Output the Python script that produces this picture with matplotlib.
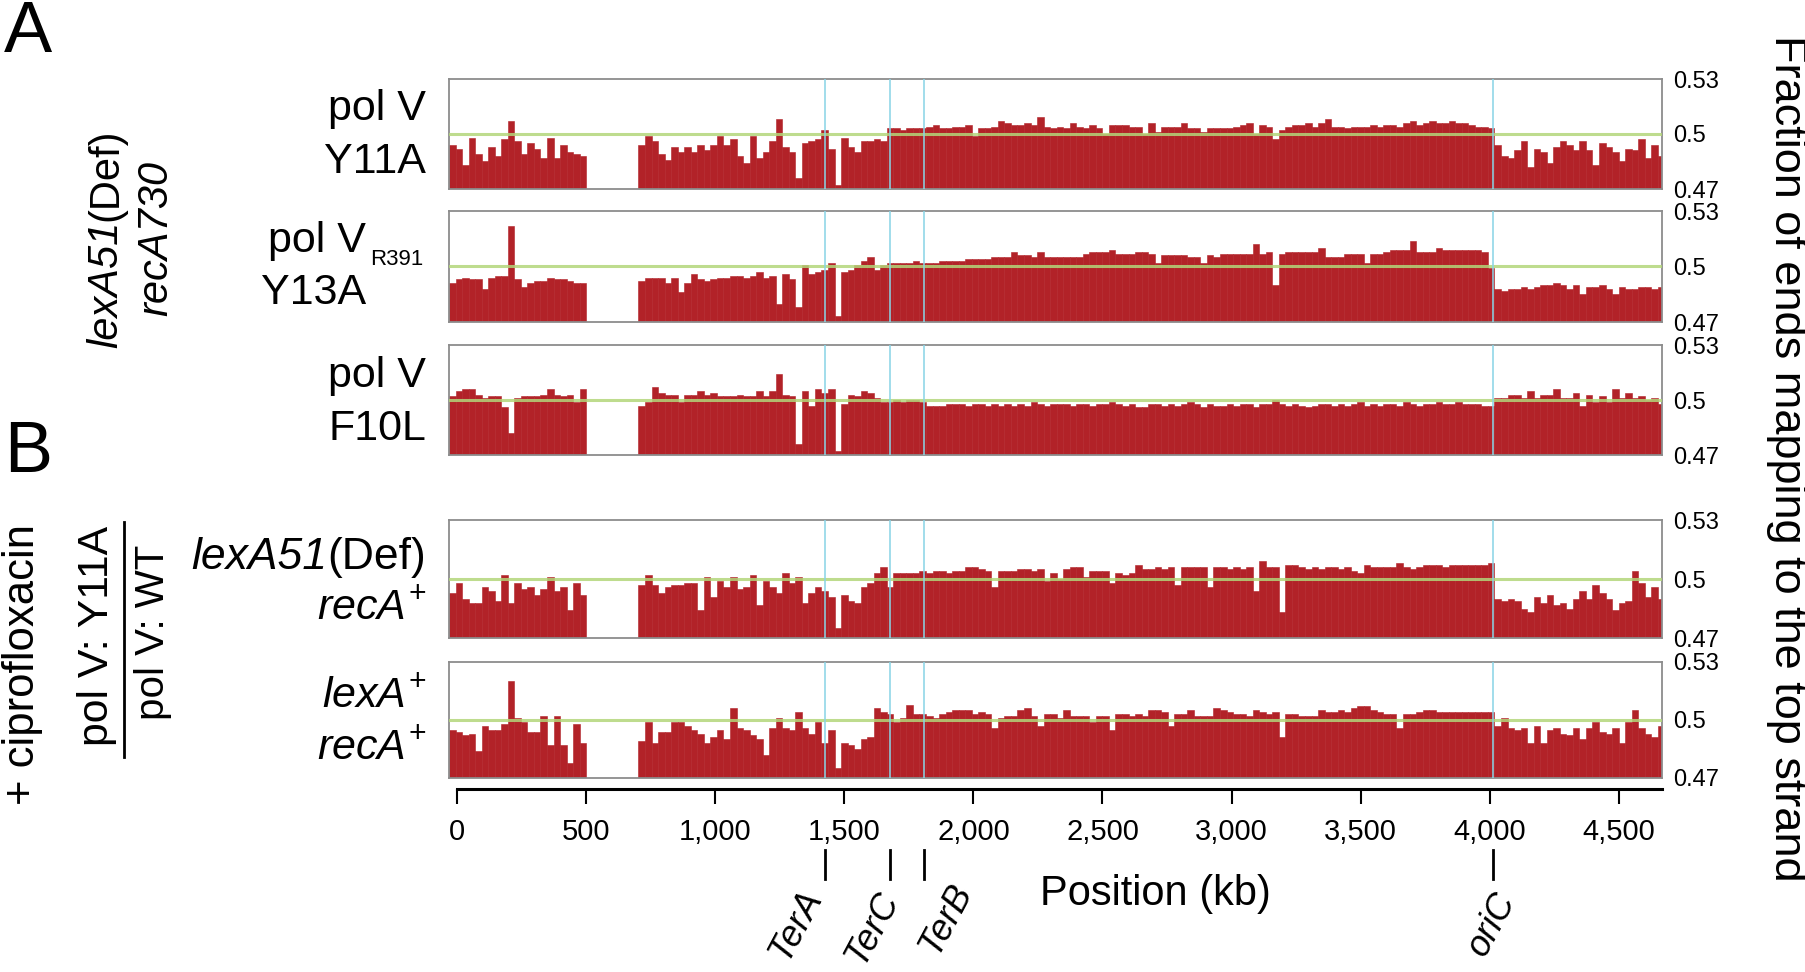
import numpy as np
import matplotlib
matplotlib.use("Agg")
import matplotlib.pyplot as plt
import matplotlib.transforms as mtransforms

plt.rcParams["font.family"] = ["Liberation Sans", "DejaVu Sans"]
plt.rcParams["mathtext.fontset"] = "custom"
plt.rcParams["mathtext.rm"] = "Liberation Sans"
plt.rcParams["mathtext.it"] = "Liberation Sans:italic"
plt.rcParams["mathtext.bf"] = "Liberation Sans:bold"

#%% data: fraction of ends on the top strand, 25 kb bins (nan = no data)
nan = float("nan")
BIN_KB = 25
GENOME_KB = 4641
MARKER_KB = [1437, 1686, 1819, 3994]          # TerA, TerC, TerB, oriC
MARKER_NAMES = ["TerA", "TerC", "TerB", "oriC"]
AXIS_TICKS = [0, 500, 1000, 1500, 2000, 2500, 3000, 3500, 4000, 4500]
Y_TICKS = [0.47, 0.5, 0.53]

y11a = [
    .494, .492, .483, .498, .489, .485, .493, .488, .497, .507,
    .496, .489, .495, .492, .487, .498, .487, .494, .490, .489,
    .488, nan, nan, nan, nan, nan, nan, nan, nan, .494,
    .499, .496, .489, .486, .493, .490, .493, .490, .494, .491,
    .494, .499, .494, .497, .488, .484, .499, .487, .490, .496,
    .508, .493, .490, .476, .495, .496, .497, .502, .492, .472,
    .498, .493, .490, .496, .496, .497, .496, .503, .503, .502,
    .503, .503, .503, .504, .505, .503, .503, .504, .504, .505,
    .499, .503, .503, .504, .507, .506, .505, .505, .506, .505,
    .509, .504, .503, .504, .503, .506, .504, .503, .505, .503,
    .500, .505, .505, .505, .504, .504, .500, .506, .501, .504,
    .504, .504, .506, .503, .503, .501, .503, .503, .503, .503,
    .504, .505, .506, .500, .505, .504, .497, .502, .504, .505,
    .505, .506, .504, .506, .508, .504, .504, .503, .504, .504,
    .504, .505, .504, .505, .505, .504, .506, .507, .505, .506,
    .507, .506, .506, .507, .506, .506, .505, .504, .504, .503,
    .494, .488, .487, .491, .496, .482, .492, .490, .484, .493,
    .496, .494, .491, .496, .491, .483, .495, .493, .490, .485,
    .492, .491, .497, .487, .494, .488]

r391_y13a = [
    .491, .493, .494, .493, .493, .488, .494, .495, .495, .522,
    .493, .489, .491, .492, .492, .494, .493, .493, .492, .491,
    .491, nan, nan, nan, nan, nan, nan, nan, nan, .492,
    .494, .494, .494, .491, .494, .486, .491, .496, .493, .492,
    .493, .494, .494, .495, .495, .494, .495, .497, .494, .495,
    .480, .496, .493, .478, .501, .496, .497, .498, .502, .473,
    .497, .498, .501, .503, .505, .498, .501, .502, .502, .502,
    .502, .503, .502, .502, .502, .503, .503, .503, .503, .504,
    .504, .504, .504, .505, .505, .505, .508, .506, .506, .505,
    .508, .505, .505, .505, .505, .505, .505, .507, .508, .508,
    .508, .509, .507, .507, .507, .508, .508, .507, .502, .506,
    .506, .506, .506, .505, .505, .502, .506, .505, .507, .507,
    .507, .507, .507, .512, .507, .508, .490, .507, .508, .508,
    .508, .508, .508, .510, .505, .505, .505, .507, .507, .507,
    .502, .507, .507, .508, .509, .509, .509, .514, .508, .508,
    .508, .510, .509, .509, .509, .509, .509, .509, .508, .499,
    .488, .487, .488, .488, .489, .488, .489, .490, .490, .491,
    .490, .488, .490, .485, .489, .489, .490, .488, .485, .489,
    .488, .488, .489, .489, .488, .489]

f10l = [
    .502, .505, .506, .506, .503, .501, .502, .502, .496, .482,
    .501, .502, .502, .502, .503, .506, .503, .502, .503, .499,
    .506, nan, nan, nan, nan, nan, nan, nan, nan, .497,
    .499, .507, .504, .503, .503, .499, .503, .503, .505, .503,
    .504, .502, .502, .502, .503, .502, .502, .505, .502, .505,
    .514, .503, .502, .476, .505, .497, .506, .504, .506, .472,
    .498, .503, .502, .505, .504, .501, .499, .499, .500, .499,
    .500, .500, .499, .497, .497, .497, .498, .498, .498, .497,
    .498, .498, .497, .498, .497, .498, .497, .498, .497, .499,
    .498, .497, .498, .498, .498, .497, .498, .498, .497, .498,
    .498, .499, .498, .497, .498, .496, .496, .498, .498, .497,
    .498, .497, .498, .499, .498, .496, .498, .497, .497, .498,
    .497, .498, .498, .496, .498, .498, .500, .498, .497, .498,
    .497, .496, .497, .498, .498, .497, .498, .497, .498, .499,
    .497, .498, .497, .498, .498, .497, .499, .498, .497, .498,
    .498, .499, .498, .498, .499, .498, .498, .498, .497, .497,
    .501, .501, .503, .503, .501, .505, .501, .503, .503, .506,
    .501, .501, .504, .497, .503, .499, .502, .499, .506, .501,
    .504, .501, .502, .500, .501, .498]

lexa51_reca = [
    .493, .498, .490, .488, .488, .496, .494, .489, .502, .488,
    .498, .495, .496, .492, .495, .501, .494, .496, .484, .498,
    .492, nan, nan, nan, nan, nan, nan, nan, nan, .497,
    .502, .497, .493, .496, .497, .497, .498, .498, .484, .501,
    .491, .499, .496, .501, .495, .496, .502, .487, .499, .496,
    .493, .503, .498, .501, .488, .493, .496, .494, .491, .475,
    .492, .489, .488, .496, .498, .503, .506, .496, .503, .503,
    .503, .503, .504, .503, .504, .504, .503, .504, .504, .506,
    .506, .505, .504, .496, .504, .504, .504, .505, .505, .504,
    .505, .499, .503, .500, .505, .506, .506, .501, .504, .504,
    .504, .498, .503, .502, .503, .507, .505, .505, .506, .505,
    .506, .497, .506, .506, .506, .506, .496, .506, .506, .505,
    .506, .505, .506, .494, .509, .506, .506, .483, .507, .507,
    .506, .505, .506, .505, .506, .506, .505, .506, .504, .503,
    .507, .506, .506, .506, .506, .508, .506, .505, .506, .507,
    .507, .507, .506, .507, .507, .507, .507, .507, .507, .508,
    .490, .489, .490, .489, .485, .483, .491, .488, .492, .487,
    .488, .485, .490, .494, .490, .497, .493, .490, .484, .488,
    .489, .504, .498, .491, .496, .490]

lexa_reca = [
    .495, .494, .492, .493, .484, .497, .495, .495, .498, .520,
    .501, .499, .494, .494, .502, .487, .502, .487, .478, .498,
    .488, nan, nan, nan, nan, nan, nan, nan, nan, .489,
    .499, .488, .494, .494, .499, .499, .497, .495, .493, .488,
    .491, .495, .490, .506, .496, .495, .492, .490, .482, .496,
    .501, .496, .495, .504, .496, .493, .499, .488, .495, .475,
    .488, .487, .485, .490, .491, .506, .504, .503, .499, .501,
    .508, .503, .503, .502, .501, .503, .504, .505, .505, .505,
    .503, .504, .503, .496, .501, .502, .502, .505, .506, .502,
    .497, .503, .503, .501, .505, .502, .502, .502, .499, .502,
    .502, .495, .503, .503, .502, .503, .502, .505, .505, .504,
    .497, .503, .503, .505, .502, .502, .502, .506, .505, .504,
    .503, .503, .502, .505, .504, .503, .504, .491, .503, .503,
    .502, .502, .502, .505, .504, .504, .505, .504, .506, .507,
    .507, .505, .504, .503, .503, .496, .503, .503, .504, .505,
    .505, .504, .504, .504, .504, .504, .504, .504, .504, .504,
    .497, .501, .496, .495, .496, .488, .497, .488, .495, .496,
    .493, .492, .496, .490, .496, .499, .494, .493, .496, .488,
    .499, .505, .496, .493, .491, .497]

series = [y11a, r391_y13a, f10l, lexa51_reca, lexa_reca]

#%% layout (pixels of the 1806x972 figure)
W, H = 1806, 972
RED = "#b22228"
GREEN = "#b3d67a"
CYAN = "#8ad4e6"
FRAME = "#8c8c8c"
PANEL_LEFT, PANEL_RIGHT = 449, 1662
PANEL_ROWS = [(79, 189), (211, 322), (345, 455), (520, 638), (662, 778)]


def fx(px):
    return px / W


def fy(py):
    return 1 - py / H


fig = plt.figure(figsize=(W / 100, H / 100), dpi=100)
renderer = fig.canvas.get_renderer()

axes = []
for vals, (top, bot) in zip(series, PANEL_ROWS):
    ax = fig.add_axes([fx(PANEL_LEFT), fy(bot), (PANEL_RIGHT - PANEL_LEFT) / W, (bot - top) / H])
    v = np.array(vals, dtype=float)
    x = np.arange(len(v)) * BIN_KB
    ok = ~np.isnan(v)
    ax.bar(x[ok], v[ok] - 0.47, width=BIN_KB, bottom=0.47, align="edge",
           color=RED, edgecolor=RED, linewidth=0.4, zorder=2)
    ax.axhline(0.5, color=GREEN, lw=2.2, alpha=0.85, zorder=3)
    for kb in MARKER_KB:
        ax.axvline(kb, color=CYAN, lw=1.4, alpha=0.8, zorder=4)
    ax.set_xlim(0, GENOME_KB)
    ax.set_ylim(0.47, 0.53)
    ax.set_xticks([])
    ax.yaxis.tick_right()
    ax.set_yticks(Y_TICKS)
    ax.set_yticklabels(["0.47", "0.5", "0.53"])
    ax.tick_params(axis="y", length=0, pad=8, labelsize=17)
    for sp in ax.spines.values():
        sp.set_color(FRAME)
        sp.set_linewidth(1.3)
    axes.append(ax)

#%% bottom position axis
axb = fig.add_axes([fx(457), fy(789), (PANEL_RIGHT - 457) / W, 0.0005])
axb.set_xlim(0, 4667)
axb.set_yticks([])
for side in ["left", "right", "top"]:
    axb.spines[side].set_visible(False)
axb.spines["bottom"].set_linewidth(2.2)
axb.set_xticks(AXIS_TICKS)
axb.set_xticklabels([f"{t:,}" for t in AXIS_TICKS])
axb.tick_params(axis="x", length=11, width=1.5, pad=10, labelsize=21)

trans = mtransforms.blended_transform_factory(axes[-1].transData, fig.transFigure)
for kb in MARKER_KB:
    axes[-1].plot([kb, kb], [fy(850), fy(879)], transform=trans, color="black",
                  lw=2, clip_on=False)
label_xy = [(796, 924), (872, 928), (946, 918), (1492, 924)]
for name, (lx, ly) in zip(MARKER_NAMES, label_xy):
    fig.text(fx(lx), fy(ly), name, rotation=62, ha="center", va="center",
             style="italic", fontsize=26)

fig.text(fx(1155), fy(894), "Position (kb)", ha="center", va="center", fontsize=30)


def fit(t, target_px, vertical):
    # rescale a text so its length along the reading direction matches the reference
    ext = t.get_window_extent(renderer)
    cur = ext.height if vertical else ext.width
    t.set_fontsize(t.get_fontsize() * target_px / cur)


right = fig.text(fx(1787), fy(458), "Fraction of ends mapping to the top strand",
                 rotation=270, ha="center", va="center", fontsize=30)
fit(right, 847, True)

fig.text(fx(4), fy(52), "A", ha="left", va="baseline", fontsize=52)
fig.text(fx(4), fy(472), "B", ha="left", va="baseline", fontsize=52)


def run(x_px, y_px, parts, size, rotation=0, align="right", length=None):
    # one line made of pieces with different styles (italic gene names)
    texts = [fig.text(0, 0, s, rotation=rotation, rotation_mode="anchor", ha="left",
                      va="baseline", fontsize=size, style=st)
             for s, st in parts]
    vertical = rotation == 90
    sizes = [(t.get_window_extent(renderer).height if vertical else
              t.get_window_extent(renderer).width) for t in texts]
    if length is not None:
        k = length / sum(sizes)
        for t in texts:
            t.set_fontsize(size * k)
        sizes = [s * k for s in sizes]
    total = sum(sizes)
    if vertical:
        pos = (H - y_px) - total / 2
    else:
        pos = x_px - (total if align == "right" else total / 2)
    for t, ln in zip(texts, sizes):
        if vertical:
            t.set_position((fx(x_px), pos / H))
        else:
            t.set_position((pos / W, fy(y_px)))
        pos += ln


#%% row labels
RX = 426
for txt, base, xr in [("pol V", 120, RX), ("Y11A", 173, RX), ("pol V", 252, 366),
                      ("Y13A", 304, 366), ("pol V", 387, RX), ("F10L", 440, RX),
                      (r"$\mathit{recA}^{+}$", 620, RX), (r"$\mathit{lexA}^{+}$", 707, RX),
                      (r"$\mathit{recA}^{+}$", 759, RX)]:
    fig.text(fx(xr), fy(base), txt, ha="right", va="baseline", fontsize=31)
fig.text(fx(370), fy(265), "R391", ha="left", va="baseline", fontsize=16)
run(RX, 569, [("lexA51", "italic"), ("(Def)", "normal")], 32)

#%% left group labels
run(117, 238, [("lexA51", "italic"), ("(Def)", "normal")], 30, rotation=90)
run(167, 238, [("recA730", "italic")], 30, rotation=90)
run(34, 665, [("+ ciprofloxacin", "normal")], 31, rotation=90, length=280)
run(108, 636, [("pol V: Y11A", "normal")], 31, rotation=90, length=220)
run(164, 632, [("pol V: WT", "normal")], 31, rotation=90, length=175)
fig.add_artist(plt.Line2D([fx(124), fx(124)], [fy(522), fy(757)], color="black", lw=2))

fig.savefig("out.png", dpi=100)
